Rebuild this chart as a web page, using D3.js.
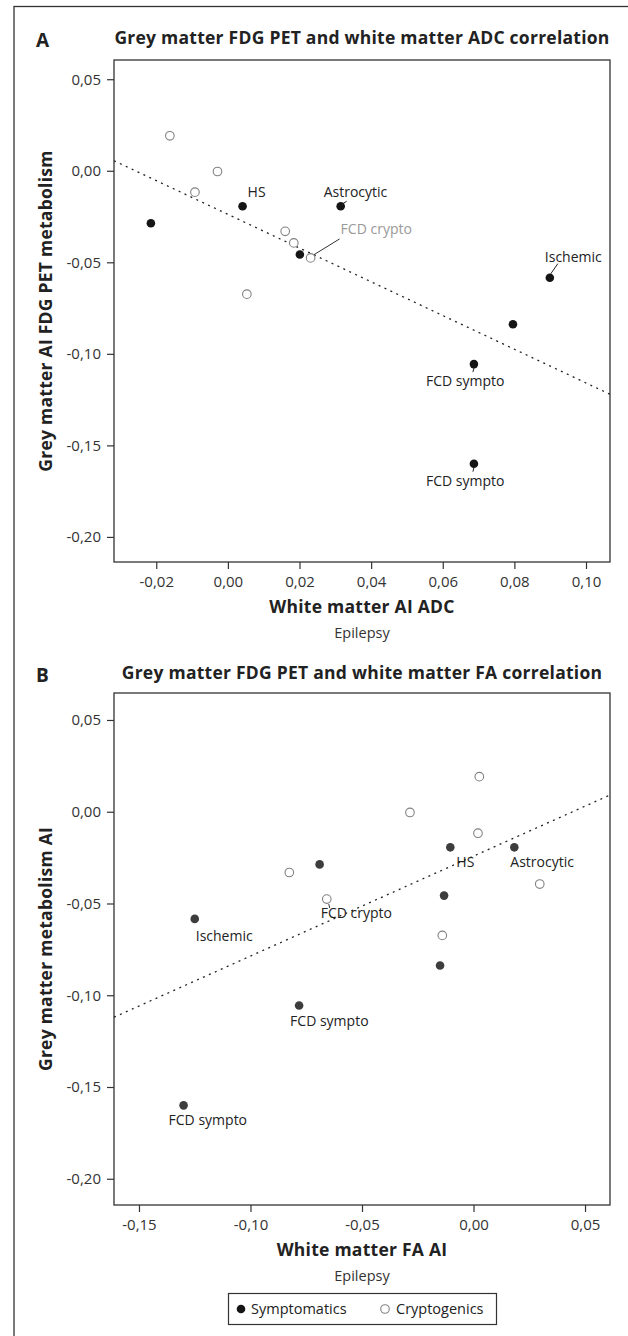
<!DOCTYPE html>
<html lang="en">
<head>
<meta charset="utf-8">
<title>Grey matter FDG PET correlations</title>
<script src="https://cdn.jsdelivr.net/npm/d3@7"></script>
<style>
  body { margin: 0; background: #fff; }
  svg { display: block; font-family: "Open Sans", sans-serif; }
</style>
</head>
<body>
<script>
// one entry per patient, same order in every array
var greyAI   = [0.0191, -0.0004, -0.0117, -0.0194, -0.0194, -0.0287, -0.0331, -0.0394, -0.0457, -0.0476, -0.0674, -0.0584, -0.0838, -0.1056, -0.1600];
var adcAI    = [-0.0162, -0.0029, -0.0092, 0.0041, 0.0315, -0.0215, 0.0160, 0.0184, 0.0201, 0.0231, 0.0053, 0.0899, 0.0796, 0.0687, 0.0687];
var faAI     = [0.0026, -0.0285, 0.0020, -0.0104, 0.0183, -0.0690, -0.0826, 0.0297, -0.0132, -0.0658, -0.0140, -0.1250, -0.0150, -0.0782, -0.1300];
var group    = ["C", "C", "C", "S", "S", "S", "C", "C", "S", "C", "C", "S", "S", "S", "S"];
var caseName = ["", "", "", "HS", "Astrocytic", "", "", "", "", "FCD crypto", "", "Ischemic", "", "FCD sympto", "FCD sympto"];

var yTicks  = [0.05, 0, -0.05, -0.10, -0.15, -0.20];
var xTicksA = [-0.02, 0, 0.02, 0.04, 0.06, 0.08, 0.10];
var xTicksB = [-0.15, -0.10, -0.05, 0, 0.05];

// dotted fit lines: y = intercept + slope * x
var fitA = [-0.0238, -0.921];
var fitB = [-0.0242, 0.5445];

var legendNames = ["Symptomatics", "Cryptogenics"];

var W = 628, H = 1336;
var svg = d3.select("body").append("svg").attr("width", W).attr("height", H);

// outer frame, only left and top edges fall inside the picture
svg.append("rect").attr("x", 14).attr("y", 6.5).attr("width", 700).attr("height", 1400)
  .attr("fill", "none").attr("stroke", "#333").attr("stroke-width", 1.3);

function fmt(v) {
  var s = Math.abs(v).toFixed(2).replace(".", ",");
  return v < -1e-9 ? "-" + s : s;
}

var pts = greyAI.map(function(g, i) {
  return { grey: g, adc: adcAI[i], fa: faAI[i], grp: group[i], name: caseName[i] };
});

function boldText(sel, size) {
  return sel.attr("font-size", size).attr("font-weight", "bold").attr("letter-spacing", 0.25).attr("fill", "#222");
}

function panel(opt) {
  var x = d3.scaleLinear().domain(opt.xDom).range([opt.left, opt.right]);
  var y = d3.scaleLinear().domain(opt.yDom).range([opt.bottom, opt.top]);
  var g = svg.append("g");
  var cx = (opt.left + opt.right) / 2;

  g.append("text").attr("x", 36).attr("y", opt.titleY + 3)
    .attr("font-size", 19).attr("font-weight", "bold").attr("fill", "#222").text(opt.letter);
  boldText(g.append("text"), 17.5).attr("x", cx).attr("y", opt.titleY)
    .attr("text-anchor", "middle").text(opt.title);

  var ya = g.append("g").attr("transform", "translate(" + opt.left + ",0)")
    .call(d3.axisLeft(y).tickValues(yTicks).tickFormat(fmt).tickSize(7).tickSizeOuter(0));
  var xa = g.append("g").attr("transform", "translate(0," + opt.bottom + ")")
    .call(d3.axisBottom(x).tickValues(opt.xTicks).tickFormat(fmt).tickSize(7).tickSizeOuter(0));
  [ya, xa].forEach(function(a) {
    a.select(".domain").remove();
    a.selectAll("line").attr("stroke", "#333").attr("stroke-width", 1.2);
    a.selectAll("text").attr("font-family", "Open Sans").attr("font-size", 15).attr("fill", "#333");
  });
  ya.selectAll("text").attr("x", -13);
  xa.selectAll("text").attr("y", 14);

  g.append("rect").attr("x", opt.left).attr("y", opt.top)
    .attr("width", opt.right - opt.left).attr("height", opt.bottom - opt.top)
    .attr("fill", "none").attr("stroke", "#333").attr("stroke-width", 1.3);

  // fit line across the box
  var xd = opt.xDom;
  g.append("line")
    .attr("x1", x(xd[0])).attr("y1", y(opt.fit[0] + opt.fit[1] * xd[0]))
    .attr("x2", x(xd[1])).attr("y2", y(opt.fit[0] + opt.fit[1] * xd[1]))
    .attr("stroke", "#222").attr("stroke-width", 1.3).attr("stroke-dasharray", "2,4.5");

  // leader lines
  opt.leaders.forEach(function(l) {
    var p = pts[l[0]];
    var px = x(p[opt.key]), py = y(p.grey);
    g.append("line").attr("x1", px + l[1]).attr("y1", py + l[2]).attr("x2", px + l[3]).attr("y2", py + l[4])
      .attr("stroke", l[5] || "#222").attr("stroke-width", 1);
  });

  g.selectAll("circle.pt").data(pts).enter().append("circle").attr("class", "pt")
    .attr("cx", function(d) { return x(d[opt.key]); })
    .attr("cy", function(d) { return y(d.grey); })
    .attr("r", 4.3)
    .attr("fill", function(d) { return d.grp === "S" ? opt.filled : "#fff"; })
    .attr("stroke", function(d) { return d.grp === "S" ? "none" : "#808080"; })
    .attr("stroke-width", 1.1);

  opt.labels.forEach(function(l) {
    var p = pts[l[0]];
    g.append("text").attr("x", x(p[opt.key]) + l[1]).attr("y", y(p.grey) + l[2])
      .attr("font-size", 14).attr("fill", l[3] || "#222").text(p.name);
  });

  boldText(g.append("text"), 17.5).attr("x", cx).attr("y", opt.bottom + 51)
    .attr("text-anchor", "middle").text(opt.xTitle);
  g.append("text").attr("x", cx).attr("y", opt.bottom + 76)
    .attr("text-anchor", "middle").attr("font-size", 14.5).attr("fill", "#333").text("Epilepsy");
  boldText(g.append("text"), 17.5)
    .attr("transform", "translate(" + opt.yTitleX + "," + (opt.top + opt.bottom) / 2 + ") rotate(-90)")
    .attr("text-anchor", "middle").text(opt.yTitle);
}

panel({
  letter: "A", titleY: 44,
  title: "Grey matter FDG PET and white matter ADC correlation",
  xTitle: "White matter AI ADC", yTitle: "Grey matter AI FDG PET metabolism", yTitleX: 52,
  left: 114, right: 610, top: 60, bottom: 562,
  xDom: [-0.0318, 0.1067], yDom: [-0.2137, 0.0605],
  xTicks: xTicksA, key: "adc", fit: fitA, filled: "#151515",
  labels: [[3, 5, -9], [4, -17, -9], [9, 30, -24, "#999"], [11, -5, -16], [13, -48, 22], [14, -48, 22]],
  leaders: [[4, 1, -2, 6, -5], [9, 3, -3, 29, -19, "#333"], [11, 1, -4, 8, -14], [13, 0, 4, -1, 8], [14, 0, 4, -1, 8]]
});

panel({
  letter: "B", titleY: 679,
  title: "Grey matter FDG PET and white matter FA correlation",
  xTitle: "White matter FA AI", yTitle: "Grey matter metabolism AI", yTitleX: 52,
  left: 114, right: 610, top: 693, bottom: 1205,
  xDom: [-0.1612, 0.0612], yDom: [-0.2143, 0.0647],
  xTicks: xTicksB, key: "fa", fit: fitB, filled: "#3d3d3d",
  labels: [[3, 6, 20], [4, -4, 20], [9, -6, 19], [11, 1, 22], [13, -9, 20], [14, -15, 20]],
  leaders: [[9, 2, 5, 3, 9, "#333"]]
});

// legend
var lg = svg.append("g");
lg.append("rect").attr("x", 228.5).attr("y", 1293.5).attr("width", 268).attr("height", 31)
  .attr("fill", "#fff").attr("stroke", "#333").attr("stroke-width", 1.2);
lg.append("circle").attr("cx", 241).attr("cy", 1309).attr("r", 4.3).attr("fill", "#151515");
lg.append("text").attr("x", 251).attr("y", 1314).attr("font-size", 14.5).attr("fill", "#222").text(legendNames[0]);
lg.append("circle").attr("cx", 385).attr("cy", 1309).attr("r", 4.3).attr("fill", "#fff")
  .attr("stroke", "#808080").attr("stroke-width", 1.1);
lg.append("text").attr("x", 396).attr("y", 1314).attr("font-size", 14.5).attr("fill", "#222").text(legendNames[1]);
</script>
</body>
</html>
